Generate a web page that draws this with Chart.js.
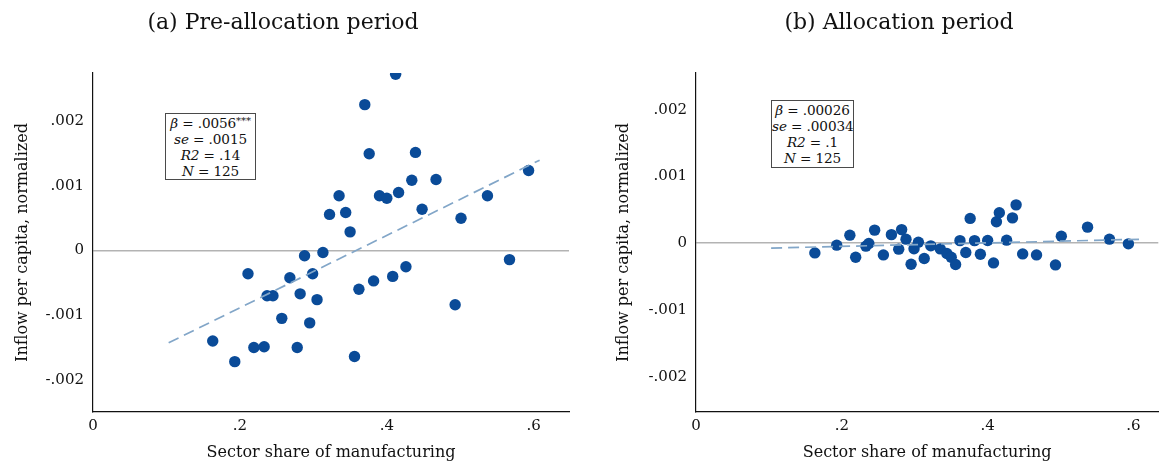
<!DOCTYPE html>
<html><head><meta charset="utf-8">
<script src="https://cdn.jsdelivr.net/npm/chart.js@4.4.1/dist/chart.umd.min.js"></script>
<style>
html,body{margin:0;padding:0;background:#fff;}
#wrap{position:relative;width:1164px;height:464px;overflow:hidden;background:#fff;}
.pane{position:absolute;top:0;width:582px;height:464px;}
.note{position:absolute;border:1.5px solid #4a4a4a;background:#fff;font-family:'DejaVu Serif',serif;font-size:13.6px;line-height:16px;text-align:center;color:#111;box-sizing:border-box;padding-top:1px;white-space:nowrap;letter-spacing:-0.1px;}
.note sup{font-size:10px;vertical-align:4px;line-height:0;}
</style></head>
<body><div id="wrap">
<div class="pane" style="left:0"><canvas id="c1" width="582" height="464"></canvas></div>
<div class="pane" style="left:582px"><canvas id="c2" width="582" height="464"></canvas></div>
<div class="note" id="n1" style="left:165px;top:113px;width:91px;height:67px;"></div>
<div class="note" id="n2" style="left:771px;top:100px;width:83px;height:68px;"></div>
</div>
<script>
// ---- data ----
const panelTitles = ['(a) Pre-allocation period', '(b) Allocation period'];
const xAxisTitle = 'Sector share of manufacturing';
const yAxisTitle = 'Inflow per capita, normalized';
const xTicks = [0, 0.2, 0.4, 0.6];
const yTicks = [-0.002, -0.001, 0, 0.001, 0.002];

const sectorShare = [0.163,0.193,0.211,0.219,0.233,0.237,0.245,0.257,0.268,0.278,
  0.282,0.288,0.295,0.299,0.305,0.313,0.322,0.335,0.344,0.350,
  0.356,0.362,0.370,0.376,0.382,0.390,0.400,0.408,0.412,0.416,
  0.426,0.434,0.439,0.448,0.467,0.493,0.501,0.537,0.567,0.593];

const inflowPre = [-0.00140,-0.00172,-0.00036,-0.00150,-0.00149,-0.00070,-0.00070,-0.00105,-0.00042,-0.00150,
  -0.00067,-0.00008,-0.00112,-0.00036,-0.00076,-0.00003,0.00056,0.00085,0.00059,0.00029,
  -0.00164,-0.00060,0.00226,0.00150,-0.00047,0.00085,0.00081,-0.00040,0.00273,0.00090,
  -0.00025,0.00109,0.00152,0.00064,0.00110,-0.00084,0.00050,0.00085,-0.00014,0.00124];

const inflowAlloc = [-0.000146,-0.000030,0.000120,-0.000210,-0.000045,-0.000005,0.000195,-0.000176,0.000128,-0.000090,
  0.000203,0.000060,-0.000316,-0.000083,0.000015,-0.000230,-0.000040,-0.000086,-0.000155,-0.000210,
  -0.000320,0.000038,-0.000140,0.000371,0.000038,-0.000165,0.000040,-0.000296,0.000320,0.000456,
  0.000045,0.000379,0.000574,-0.000161,-0.000176,-0.000326,0.000105,0.000240,0.000060,-0.000010];

// fitted lines: [intercept, slope], fitted over x range
const fitPre = [-0.002005, 0.0056];
const fitAlloc = [-0.0001, 0.00026];
const fitRange = [0.103, 0.608];

// regression notes
const notePre = ['.0056', '***', '.0015', '.14', '125'];
const noteAlloc = ['.00026', '', '.00034', '.1', '125'];

// ---- helpers ----
function fmt(v){
  if (Math.abs(v) < 1e-12) return '0';
  return String(+v.toFixed(4)).replace(/^(-?)0\./, '$1.');
}
function noteHTML(n){
  return '<i>β</i> = ' + n[0] + (n[1] ? '<sup>' + n[1] + '</sup>' : '') + '<br>' +
    '<i>se</i> = ' + n[2] + '<br><i>R2</i> = ' + n[3] + '<br><i>N</i> = ' + n[4];
}
document.getElementById('n1').innerHTML = noteHTML(notePre);
document.getElementById('n2').innerHTML = noteHTML(noteAlloc);

const FONT = "'DejaVu Serif', serif";
const titlePlugin = {
  id: 'panelTitle',
  afterDraw(chart, args, o){
    const ctx = chart.ctx;
    ctx.save();
    ctx.font = '22px ' + FONT;
    ctx.fillStyle = '#111';
    ctx.textAlign = 'center';
    ctx.textBaseline = 'middle';
    ctx.fillText(o.text, o.x, o.y);
    ctx.restore();
  }
};

function makeChart(id, yVals, fit, cfg){
  const pts = sectorShare.map((x, i) => ({x: x, y: yVals[i]}));
  const line = fitRange.map(x => ({x: x, y: fit[0] + fit[1] * x}));
  return new Chart(document.getElementById(id), {
    type: 'scatter',
    data: {datasets: [
      {data: line, showLine: true, pointRadius: 0, borderColor: '#82a6c8', borderWidth: 1.7,
       borderDash: [11, 6], fill: false, order: 0},
      {data: pts, pointRadius: 5.7, pointHoverRadius: 5.7, backgroundColor: '#0a4b98',
       borderWidth: 0, order: 1}
    ]},
    options: {
      responsive: false, animation: false,
      layout: {padding: {top: 73, left: cfg.padLeft, right: cfg.padRight, bottom: 0}},
      plugins: {legend: {display: false}, tooltip: {enabled: false},
        panelTitle: {text: cfg.title, x: cfg.titleX, y: 23}},
      scales: {
        x: {type: 'linear', min: 0, max: cfg.xMax,
          afterBuildTicks: s => { s.ticks = xTicks.map(v => ({value: v})); },
          afterFit: s => { s.height = 52; },
          grid: {display: false, drawTicks: false},
          border: {display: true, color: '#111', width: 1.2},
          ticks: {callback: v => fmt(v), font: {family: FONT, size: 15}, color: '#111', padding: 5, maxRotation: 0},
          title: {display: true, text: xAxisTitle, font: {family: FONT, size: 16}, color: '#111', padding: {top: 0, bottom: 2}}
        },
        y: {type: 'linear', min: cfg.yMin, max: cfg.yMax,
          afterBuildTicks: s => { s.ticks = yTicks.map(v => ({value: v})); },
          afterFit: s => { s.width = cfg.yWidth; },
          grid: {drawTicks: false, lineWidth: 1.5,
            color: c => (c.tick && Math.abs(c.tick.value) < 1e-12) ? '#b3b3b3' : 'rgba(0,0,0,0)'},
          border: {display: true, color: '#111', width: 1.2},
          ticks: {callback: v => fmt(v), font: {family: FONT, size: 15}, color: '#111', padding: 9},
          title: {display: true, text: yAxisTitle, font: {family: FONT, size: 16}, color: '#111', padding: {top: 13, bottom: 0}}
        }
      }
    },
    plugins: [titlePlugin]
  });
}

makeChart('c1', inflowPre, fitPre, {padLeft: 0, padRight: 13, yWidth: 93, xMax: 0.648,
  yMin: -0.0025, yMax: 0.00275, title: panelTitles[0], titleX: 283});
makeChart('c2', inflowAlloc, fitAlloc, {padLeft: 19, padRight: 3, yWidth: 95, xMax: 0.634,
  yMin: -0.00253, yMax: 0.00255, title: panelTitles[1], titleX: 317});
</script>
</body></html>
